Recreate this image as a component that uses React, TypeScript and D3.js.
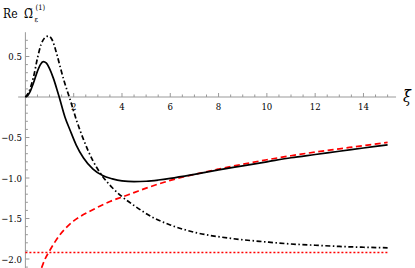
import React, { useEffect, useRef } from "react"
import * as d3 from "d3"

// curve samples: [xi, Re value]
const solidCurve: [number, number][] = [
  [0, 0], [0.1, 0.02], [0.2, 0.07], [0.33, 0.17], [0.5, 0.32], [0.62, 0.4],
  [0.74, 0.436], [0.86, 0.42], [1.0, 0.35], [1.16, 0.23], [1.3, 0.1],
  [1.4, 0.0], [1.64, -0.25], [1.85, -0.41], [2.1, -0.59], [2.4, -0.75],
  [2.8, -0.89], [3.2, -0.97], [3.6, -1.01], [4.0, -1.035], [4.5, -1.045],
  [5.0, -1.04], [5.5, -1.025], [6.0, -1.005], [7.0, -0.955], [8.0, -0.9],
  [9.0, -0.85], [10.0, -0.8], [11.0, -0.75], [12.0, -0.71], [13.0, -0.67],
  [14.0, -0.63], [15.0, -0.59],
]

const dashDotCurve: [number, number][] = [
  [0, 0], [0.15, 0.07], [0.33, 0.24], [0.5, 0.48], [0.65, 0.65], [0.8, 0.73],
  [0.95, 0.753], [1.1, 0.71], [1.3, 0.53], [1.45, 0.36], [1.6, 0.2],
  [1.85, -0.03], [2.12, -0.29], [2.4, -0.52], [2.8, -0.79], [3.2, -0.98],
  [3.6, -1.12], [4.0, -1.23], [4.5, -1.34], [5.3, -1.49], [6.0, -1.58],
  [7.0, -1.67], [8.5, -1.745], [10.0, -1.79], [11.0, -1.815], [12.0, -1.83],
  [13.0, -1.845], [14.0, -1.855], [15.0, -1.862],
]

const redDashedCurve: [number, number][] = [
  [0.67, -2.11], [0.8, -2.01], [1.0, -1.9], [1.2, -1.8], [1.43, -1.7],
  [1.7, -1.61], [2.0, -1.53], [2.3, -1.47], [2.67, -1.41], [3.1, -1.345],
  [3.5, -1.29], [3.95, -1.24], [4.5, -1.18], [5.0, -1.125], [6.0, -1.03],
  [7.0, -0.955], [8.0, -0.89], [9.0, -0.83], [10.0, -0.775], [11.0, -0.725],
  [12.0, -0.68], [13.0, -0.64], [14.0, -0.6], [15.0, -0.56],
]

const redDottedLevel = -1.92

const xTicks = [2, 4, 6, 8, 10, 12, 14]
const yTicks = [0.5, -0.5, -1.0, -1.5, -2.0]

const W = 415
const H = 268

export default function App() {
  const ref = useRef<SVGSVGElement>(null)

  useEffect(() => {
    const svg = d3.select(ref.current)
    svg.selectAll("*").remove()

    const x = d3.scaleLinear().domain([0, 15]).range([25.4, 387.6])
    const y = d3.scaleLinear().domain([0, -2]).range([97, 259])
    const font = "'DejaVu Serif Condensed', 'DejaVu Serif', serif"

    // axes lines
    svg.append("line")
      .attr("x1", x(-0.3)).attr("x2", x(15.35))
      .attr("y1", y(0)).attr("y2", y(0))
      .attr("stroke", "#999").attr("stroke-width", 1)
    svg.append("line")
      .attr("x1", x(0)).attr("x2", x(0))
      .attr("y1", y(0.8)).attr("y2", H)
      .attr("stroke", "#999").attr("stroke-width", 1)

    // x ticks: major every 2, minor every 0.5
    const xMinor = d3.range(0.5, 15.01, 0.5)
    svg.selectAll(".xt")
      .data(xMinor)
      .enter()
      .append("line")
      .attr("x1", d => x(d)).attr("x2", d => x(d))
      .attr("y1", y(0))
      .attr("y2", d => (d % 2 === 0 ? y(0) - 4 : y(0) - 2.5))
      .attr("stroke", "#999").attr("stroke-width", 1)

    // y ticks: major every 0.5, minor every 0.1
    const yMinor = d3.range(-21, 8).map(i => i / 10)
    svg.selectAll(".yt")
      .data(yMinor)
      .enter()
      .append("line")
      .attr("x1", x(0))
      .attr("x2", d => (Math.round(d * 10) % 5 === 0 ? x(0) + 4 : x(0) + 2.5))
      .attr("y1", d => y(d)).attr("y2", d => y(d))
      .attr("stroke", "#999").attr("stroke-width", 1)

    svg.selectAll(".xl")
      .data(xTicks)
      .enter()
      .append("text")
      .attr("x", d => x(d))
      .attr("y", y(0) + 12.5)
      .attr("text-anchor", "middle")
      .style("font-family", font)
      .style("font-size", "9.5px")
      .text(d => String(d))

    svg.selectAll(".yl")
      .data(yTicks)
      .enter()
      .append("text")
      .attr("x", x(0) - 3.5)
      .attr("y", d => y(d) + 3.5)
      .attr("text-anchor", "end")
      .style("font-family", font)
      .style("font-size", "9.5px")
      .text(d => (d < 0 ? "\u2212" : "") + Math.abs(d).toFixed(1))

    // axis labels
    svg.append("text")
      .attr("x", 403).attr("y", y(0) + 5)
      .style("font-family", font).style("font-style", "italic")
      .style("font-size", "16px")
      .text("ξ")

    const lab = svg.append("text")
      .attr("x", 3).attr("y", 18)
      .style("font-family", font)
      .style("font-size", "12px")
    lab.append("tspan").text("Re")
    lab.append("tspan").attr("x", 24).text("\u03A9\u0303")
    lab.append("tspan").attr("x", 34.5).attr("y", 22).style("font-size", "7.5px").text("\u03B5")
    lab.append("tspan").attr("x", 35.5).attr("y", 10).style("font-size", "7.5px").text("(1)")

    const line = d3.line<[number, number]>()
      .x(d => x(d[0]))
      .y(d => y(d[1]))
      .curve(d3.curveMonotoneX)

    svg.append("line")
      .attr("x1", x(0)).attr("x2", x(15))
      .attr("y1", y(redDottedLevel)).attr("y2", y(redDottedLevel))
      .attr("stroke", "#ff0000").attr("stroke-width", 1.7)
      .attr("stroke-dasharray", "2,2")

    svg.append("path")
      .datum(redDashedCurve)
      .attr("d", line)
      .attr("fill", "none")
      .attr("stroke", "#ff0000").attr("stroke-width", 1.7)
      .attr("stroke-dasharray", "6,3.5")

    svg.append("path")
      .datum(dashDotCurve)
      .attr("d", line)
      .attr("fill", "none")
      .attr("stroke", "black").attr("stroke-width", 1.7)
      .attr("stroke-dasharray", "5,2.5,1.5,2.5")

    svg.append("path")
      .datum(solidCurve)
      .attr("d", line)
      .attr("fill", "none")
      .attr("stroke", "black").attr("stroke-width", 1.7)
  }, [])

  return (
    <svg
      ref={ref}
      width={W}
      height={H}
      style={{ position: "absolute", left: 0, top: 0, background: "white" }}
    />
  )
}
